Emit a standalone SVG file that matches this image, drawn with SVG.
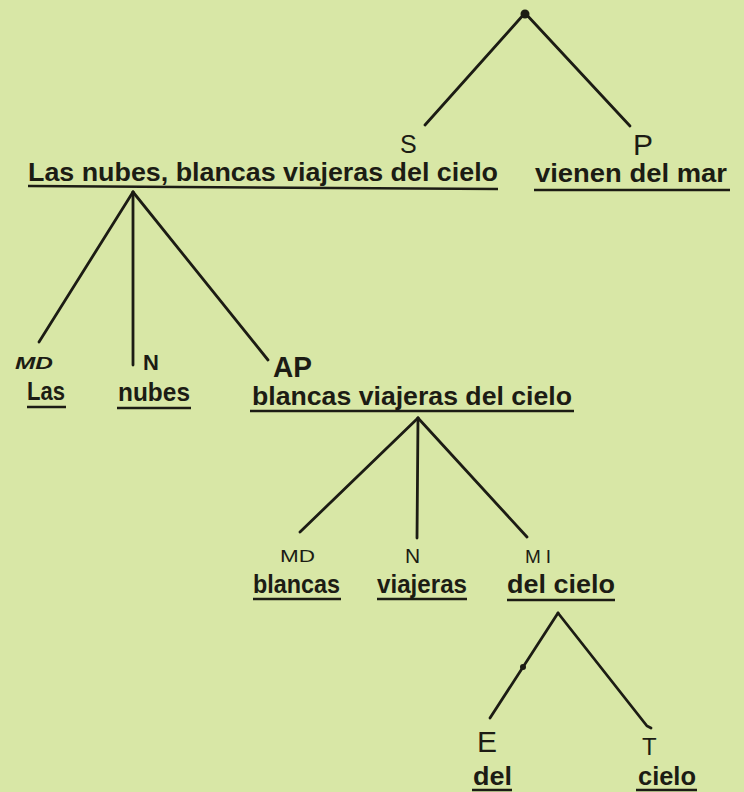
<svg xmlns="http://www.w3.org/2000/svg" width="744" height="792" viewBox="0 0 744 792">
<style>
.bg{fill:#d8e7a6}
.w{font-family:"Liberation Sans","Open Sans",sans-serif;font-weight:700;font-size:25px;fill:#1c1c14}
.lab{font-family:"Liberation Sans","DejaVu Sans",sans-serif;fill:#1c1c14}
.ul{stroke:#1c1c14;stroke-width:2.5;fill:none}
.br{stroke:#1c1c14;stroke-width:2.8;fill:none;stroke-linecap:round}
</style>
<rect class="bg" x="0" y="0" width="744" height="792"/>
<g id="connectors">
<line class="br" x1="525" y1="13" x2="425" y2="125"/>
<line class="br" x1="525" y1="13" x2="630" y2="126"/>
<line class="br" x1="133" y1="192" x2="39" y2="342"/>
<line class="br" x1="133" y1="192" x2="133" y2="365"/>
<line class="br" x1="133" y1="192" x2="268" y2="360"/>
<line class="br" x1="418" y1="418" x2="300" y2="532"/>
<line class="br" x1="418" y1="418" x2="417" y2="538"/>
<line class="br" x1="418" y1="418" x2="527" y2="537"/>
<line class="br" x1="558" y1="613" x2="490" y2="718"/>
<polyline class="br" points="558,613 647,726 651,728"/>
<circle cx="525" cy="14" r="4.5" fill="#1c1c14"/>
<circle cx="523" cy="667" r="3" fill="#1c1c14"/>
</g>
<g id="root">
<text class="lab" x="400" y="153" font-size="25">S</text>
<text class="lab" x="633" y="155" font-size="30">P</text>
</g>
<g id="sujeto">
<text class="w" x="28" y="181" textLength="470" lengthAdjust="spacingAndGlyphs">Las nubes, blancas viajeras del cielo</text>
<line class="ul" x1="28" y1="186" x2="498" y2="189"/>
</g>
<g id="predicado">
<text class="w" x="535" y="182" textLength="192" lengthAdjust="spacingAndGlyphs">vienen del mar</text>
<line class="ul" x1="534" y1="190" x2="730" y2="190"/>
</g>
<g id="md1">
<text class="lab" x="15" y="369" font-size="17" font-weight="700" font-style="italic" textLength="38" lengthAdjust="spacingAndGlyphs">MD</text>
<text class="w" x="27" y="400" textLength="38" lengthAdjust="spacingAndGlyphs">Las</text>
<line class="ul" x1="27" y1="407" x2="66" y2="407"/>
</g>
<g id="n1">
<text class="lab" x="143" y="370" font-size="22" font-weight="700">N</text>
<text class="w" x="118" y="401" textLength="72" lengthAdjust="spacingAndGlyphs">nubes</text>
<line class="ul" x1="117" y1="408" x2="191" y2="408"/>
</g>
<g id="ap">
<text class="lab" x="273" y="377" font-size="29" font-weight="700" textLength="39" lengthAdjust="spacingAndGlyphs">AP</text>
<text class="w" x="252" y="405" textLength="320" lengthAdjust="spacingAndGlyphs">blancas viajeras del cielo</text>
<line class="ul" x1="250" y1="411" x2="574" y2="411"/>
</g>
<g id="md2">
<text class="lab" x="280" y="562" font-size="17" textLength="35" lengthAdjust="spacingAndGlyphs">MD</text>
<text class="w" x="253" y="593" textLength="87" lengthAdjust="spacingAndGlyphs">blancas</text>
<line class="ul" x1="253" y1="599" x2="341" y2="599"/>
</g>
<g id="n2">
<text class="lab" x="405" y="563" font-size="21">N</text>
<text class="w" x="377" y="593" textLength="90" lengthAdjust="spacingAndGlyphs">viajeras</text>
<line class="ul" x1="377" y1="599" x2="467" y2="599"/>
</g>
<g id="mi">
<text class="lab" x="525" y="563" font-size="19" letter-spacing="5">MI</text>
<text class="w" x="507" y="593" textLength="108" lengthAdjust="spacingAndGlyphs">del cielo</text>
<line class="ul" x1="507" y1="600" x2="615" y2="600"/>
</g>
<g id="e">
<text class="lab" x="477" y="752" font-size="30">E</text>
<text class="w" x="473" y="785" textLength="39" lengthAdjust="spacingAndGlyphs">del</text>
<line class="ul" x1="472" y1="790" x2="512" y2="790"/>
</g>
<g id="t">
<text class="lab" x="642" y="755" font-size="24">T</text>
<text class="w" x="638" y="785" textLength="58" lengthAdjust="spacingAndGlyphs">cielo</text>
<line class="ul" x1="636" y1="790" x2="697" y2="790"/>
</g>
</svg>
